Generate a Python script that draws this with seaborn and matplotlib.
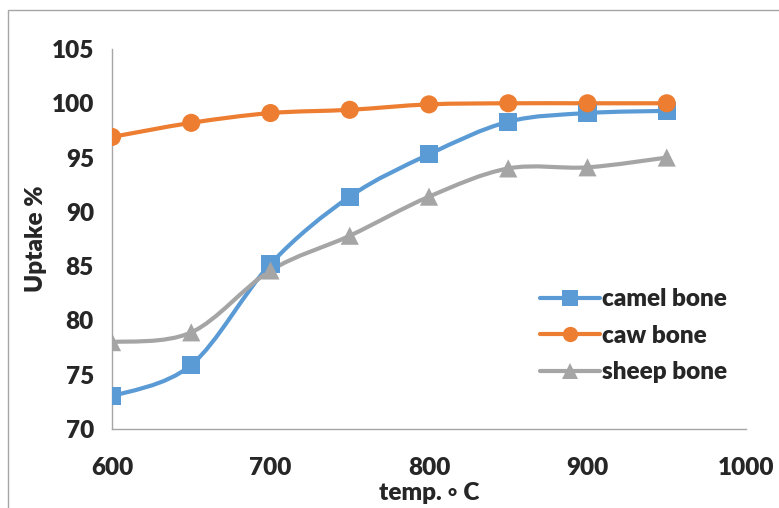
import numpy as np
import pandas as pd
import matplotlib
matplotlib.use("Agg")
import matplotlib.pyplot as plt
from matplotlib.path import Path
from matplotlib.patches import PathPatch, Rectangle
from matplotlib.lines import Line2D
import seaborn as sns

# Uptake (%) against calcination temperature for three bone sorbents
temps = [600, 650, 700, 750, 800, 850, 900, 950]
camel_bone = [73.0, 75.9, 85.2, 91.4, 95.3, 98.3, 99.1, 99.3]
caw_bone = [96.9, 98.2, 99.1, 99.4, 99.9, 100.0, 100.0, 100.0]
sheep_bone = [78.0, 78.9, 84.6, 87.8, 91.4, 94.0, 94.1, 95.0]

x_ticks = [600, 700, 800, 900, 1000]
y_ticks = [70, 75, 80, 85, 90, 95, 100, 105]

series_names = ["camel bone", "caw bone", "sheep bone"]
colors = ["#5B9BD5", "#ED7D31", "#A5A5A5"]
markers = ["s", "o", "^"]

df = pd.DataFrame({
    "temp": temps * 3,
    "uptake": camel_bone + caw_bone + sheep_bone,
    "series": sum([[n] * len(temps) for n in series_names], []),
})

sns.set_theme(style="white")
plt.rcParams["font.family"] = ["Lato", "DejaVu Sans"]
WEIGHT = "heavy"
FS = 17.5

fig = plt.figure(figsize=(7.79, 5.08), dpi=100)
ax = fig.add_axes([112 / 779, 1 - 429 / 508, (746 - 112) / 779, (429 - 49) / 508])

# outer chart frame
fig.patches.append(Rectangle((8 / 779, -0.2), 1.2, (508 - 10) / 508 + 0.2,
                             transform=fig.transFigure, fill=False,
                             edgecolor="#A6A6A6", lw=1.0, zorder=0))


def smooth_path(xs, ys):
    """Cubic Bezier through the points with Catmull-Rom style tangents."""
    xs = np.asarray(xs, float)
    ys = np.asarray(ys, float)
    n = len(xs)
    verts = [(xs[0], ys[0])]
    codes = [Path.MOVETO]
    for i in range(n - 1):
        i0 = max(i - 1, 0)
        i3 = min(i + 2, n - 1)
        c1 = (xs[i] + (xs[i + 1] - xs[i0]) / 6, ys[i] + (ys[i + 1] - ys[i0]) / 6)
        c2 = (xs[i + 1] - (xs[i3] - xs[i]) / 6, ys[i + 1] - (ys[i3] - ys[i]) / 6)
        verts += [c1, c2, (xs[i + 1], ys[i + 1])]
        codes += [Path.CURVE4] * 3
    return Path(verts, codes)


for name, color in zip(series_names, colors):
    sub = df[df["series"] == name]
    ax.add_patch(PathPatch(smooth_path(sub["temp"], sub["uptake"]),
                           fill=False, edgecolor=color, lw=3.0,
                           capstyle="round", zorder=2))

sns.scatterplot(data=df, x="temp", y="uptake", hue="series", style="series",
                hue_order=series_names, style_order=series_names,
                palette=colors, markers=markers, s=170, linewidth=0,
                legend=False, ax=ax, zorder=3)

ax.set_xlim(600, 1000)
ax.set_ylim(70, 105)
ax.set_xticks(x_ticks)
ax.set_yticks(y_ticks)
ax.tick_params(axis="both", which="major", labelsize=FS, length=7, width=1,
               color="#A6A6A6", direction="out", pad=6)
ax.tick_params(axis="x", pad=13)
for lab in ax.get_xticklabels() + ax.get_yticklabels():
    lab.set_fontweight(WEIGHT)

for side in ["top", "right"]:
    ax.spines[side].set_visible(False)
for side in ["left", "bottom"]:
    ax.spines[side].set_color("#A6A6A6")
    ax.spines[side].set_linewidth(1.0)

ax.set_xlabel("temp. \u25e6 C", fontsize=FS, fontweight=WEIGHT, labelpad=2)
ax.set_ylabel("Uptake %", fontsize=FS, fontweight=WEIGHT, labelpad=3)

# legend handles: line with marker
handles = [Line2D([0], [0], color=c, lw=3.0, marker=m, markersize=11,
                  markeredgewidth=0)
           for c, m in zip(colors, markers)]
leg = ax.legend(handles, series_names, loc="center left",
                bbox_to_anchor=(0.64, 0.245), frameon=False,
                prop={"size": FS, "weight": WEIGHT}, handlelength=2.5,
                handletextpad=0.05, labelspacing=0.6)

fig.savefig("out.png", dpi=100)
